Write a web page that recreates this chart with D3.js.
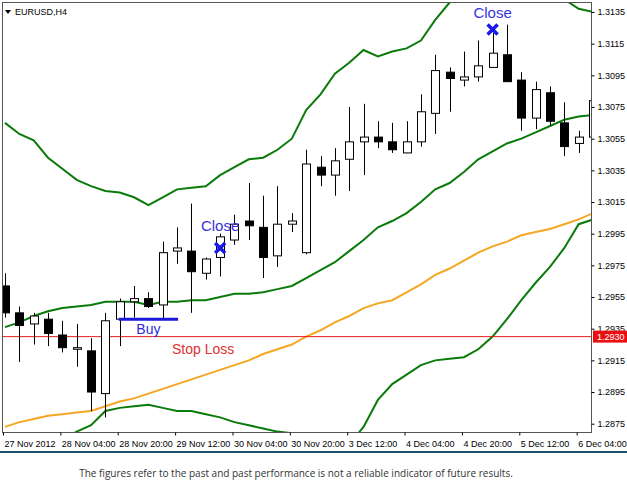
<!DOCTYPE html>
<html><head><meta charset="utf-8">
<script src="https://cdn.jsdelivr.net/npm/d3@7"></script>
<style>body{margin:0;background:#fff}svg{display:block}</style>
</head><body><svg id="c" width="627" height="495"></svg>
<script>
const opens  = [1.2962,1.2945,1.2938,1.2941,1.2931,1.2922,1.2921,1.2894,1.2941,1.2952,1.2954,1.2950,1.2984,1.2984,1.2970,1.2980,1.2991,1.3003,1.2999,1.2981,1.3001,1.2983,1.3037,1.3032,1.3042,1.3053,1.3056,1.3053,1.3046,1.3053,1.3071,1.3097,1.3092,1.3094,1.3100,1.3108,1.3092,1.3068,1.3084,1.3065,1.3052,1.3056];
const highs  = [1.2970,1.2949,1.2945,1.2945,1.2940,1.2938,1.2929,1.2945,1.2954,1.2962,1.2958,1.2990,1.2999,1.3014,1.2980,1.2995,1.3007,1.3027,1.3019,1.3025,1.3008,1.3048,1.3044,1.3049,1.3075,1.3077,1.3066,1.3065,1.3066,1.3083,1.3108,1.3100,1.3110,1.3117,1.3122,1.3127,1.3097,1.3091,1.3088,1.3078,1.3060,1.3082];
const lows   = [1.2942,1.2914,1.2925,1.2924,1.2920,1.2911,1.2883,1.2879,1.2924,1.2942,1.2948,1.2941,1.2976,1.2945,1.2966,1.2968,1.2988,1.2991,1.2967,1.2974,1.2996,1.2982,1.3025,1.3019,1.3022,1.3032,1.3049,1.3046,1.3046,1.3050,1.3058,1.3072,1.3088,1.3091,1.3100,1.3091,1.3060,1.3061,1.3063,1.3044,1.3046,1.3042];
const closes = [1.2945,1.2937,1.2943,1.2932,1.2923,1.2923,1.2895,1.2940,1.2952,1.2954,1.2949,1.2983,1.2986,1.2971,1.2979,1.2993,1.3001,1.3000,1.2980,1.3001,1.3003,1.3039,1.3032,1.3041,1.3053,1.3056,1.3053,1.3048,1.3053,1.3072,1.3098,1.3093,1.3094,1.3101,1.3109,1.3091,1.3068,1.3086,1.3066,1.3050,1.3056,1.3079];
const bandUpper = [1.3065,1.3058,1.3054,1.3043,1.3036,1.3029,1.3025,1.3022,1.3021,1.3018,1.3013,1.3018,1.3023,1.3024,1.3025,1.3032,1.3037,1.3042,1.3043,1.3048,1.3055,1.3073,1.3083,1.3096,1.3103,1.3111,1.3107,1.3110,1.3112,1.3117,1.3130,1.3141,1.3152,1.3159,1.3162,1.3162,1.3159,1.3154,1.3148,1.3143,1.3137,1.3135];
const bandMiddle = [1.2936,1.2939,1.2943,1.2946,1.2948,1.2949,1.2950,1.2952,1.2952,1.2952,1.2950,1.2952,1.2952,1.2953,1.2953,1.2955,1.2957,1.2957,1.2958,1.2960,1.2962,1.2967,1.2972,1.2977,1.2984,1.2991,1.2999,1.3003,1.3008,1.3015,1.3023,1.3027,1.3034,1.3042,1.3047,1.3052,1.3055,1.3059,1.3063,1.3067,1.3069,1.3070];
const bandLower = [1.2852,1.2855,1.2859,1.2862,1.2865,1.2870,1.2874,1.2883,1.2885,1.2886,1.2887,1.2885,1.2883,1.2883,1.2881,1.2879,1.2876,1.2874,1.2872,1.2870,1.2869,1.2862,1.2855,1.2855,1.2862,1.2873,1.2890,1.2900,1.2906,1.2912,1.2915,1.2916,1.2917,1.2922,1.2930,1.2941,1.2953,1.2964,1.2974,1.2986,1.3001,1.3004];
const maSlow = [1.2873,1.2876,1.2878,1.2880,1.2881,1.2882,1.2883,1.2886,1.2889,1.2891,1.2894,1.2897,1.2900,1.2903,1.2906,1.2909,1.2912,1.2915,1.2919,1.2922,1.2925,1.2930,1.2934,1.2939,1.2943,1.2948,1.2951,1.2953,1.2958,1.2963,1.2969,1.2973,1.2978,1.2983,1.2987,1.2990,1.2994,1.2996,1.2998,1.3001,1.3004,1.3008];
const timeLabels = ["27 Nov 2012","28 Nov 04:00","28 Nov 20:00","29 Nov 12:00","30 Nov 04:00","30 Nov 20:00","3 Dec 12:00","4 Dec 04:00","4 Dec 20:00","5 Dec 12:00","6 Dec 04:00"];
const timeTickIdx = [0,4,8,12,16,20,24,28,32,36,40];
const priceTicks = [1.3135,1.3115,1.3095,1.3075,1.3055,1.3035,1.3015,1.2995,1.2975,1.2955,1.2935,1.2915,1.2895,1.2875];
const stopLoss = 1.2930, buyPrice = 1.2941, buyFrom = 8, buyTo = 12;
const closeMarks = [{i:15, p:1.2986, label:"Close", dy:-17},{i:34, p:1.3124, label:"Close", dy:-11}];

const svg = d3.select("#c");
const L=2, R=591, T=2, B=432;
const x = d3.scaleLinear().domain([0,41]).range([5,593]);
const y = d3.scaleLinear().domain([1.3135,1.2875]).range([12,423.7]);
const font = "'Liberation Sans', Arial, sans-serif";

svg.append("defs").append("clipPath").attr("id","clip").append("rect").attr("x",L).attr("y",T).attr("width",R-L).attr("height",B-T);
const g = svg.append("g").attr("clip-path","url(#clip)");

const line = d3.line().x((d,i)=>x(i)).y(d=>y(d));
[[bandUpper,"#0a7a0a"],[bandMiddle,"#0a7a0a"],[bandLower,"#0a7a0a"],[maSlow,"#f5a623"]].forEach(([arr,c])=>{
  g.append("path").attr("d",line(arr)).attr("fill","none").attr("stroke",c).attr("stroke-width",2);
});

g.append("line").attr("x1",L).attr("x2",R).attr("y1",y(stopLoss)).attr("y2",y(stopLoss)).attr("stroke","#e52020").attr("stroke-width",1);

const idx = d3.range(opens.length);
g.selectAll(".w").data(idx).join("line").attr("x1",i=>Math.round(x(i))+0.5).attr("x2",i=>Math.round(x(i))+0.5)
 .attr("y1",i=>y(highs[i])).attr("y2",i=>y(lows[i])).attr("stroke","#000").attr("stroke-width",1);
g.selectAll(".b").data(idx).join("rect")
 .attr("x",i=>Math.round(x(i))-3.5).attr("width",8)
 .attr("y",i=>y(Math.max(opens[i],closes[i])))
 .attr("height",i=>Math.max(1,Math.abs(y(opens[i])-y(closes[i]))))
 .attr("fill",i=>closes[i]>=opens[i]?"#fff":"#000").attr("stroke","#000").attr("stroke-width",1);

g.append("line").attr("x1",x(buyFrom)-1).attr("x2",x(buyTo)+1).attr("y1",y(buyPrice)).attr("y2",y(buyPrice)).attr("stroke","#1a1ad8").attr("stroke-width",3);
svg.append("text").attr("x",(x(buyFrom)+x(buyTo))/2).attr("y",y(buyPrice)+15).attr("text-anchor","middle").attr("font-family",font).attr("font-size",14).attr("fill","#2a2ae0").text("Buy");
svg.append("text").attr("x",172).attr("y",y(stopLoss)+17).attr("font-family",font).attr("font-size",14).attr("fill","#e03030").text("Stop Loss");
closeMarks.forEach(m=>{
  const cx=x(m.i), cy=y(m.p), s=5;
  svg.append("path").attr("d",`M${cx-s},${cy-s}L${cx+s},${cy+s}M${cx+s},${cy-s}L${cx-s},${cy+s}`).attr("stroke","#1a1ae8").attr("stroke-width",3.5);
  svg.append("text").attr("x",cx).attr("y",cy+m.dy).attr("text-anchor","middle").attr("font-family",font).attr("font-size",15).attr("fill","#3535e0").text(m.label);
});

svg.append("rect").attr("x",L+0.5).attr("y",T+0.5).attr("width",R-L).attr("height",B-T).attr("fill","none").attr("stroke","#555").attr("stroke-width",1);

const ya = d3.axisRight(y).tickValues(priceTicks).tickSize(3).tickFormat(d3.format(".4f"));
const yg = svg.append("g").attr("transform",`translate(${R+0.5},0)`).call(ya);
yg.select(".domain").remove();
yg.selectAll("text").attr("font-family",font).attr("font-size",9).attr("fill","#000").attr("x",6);
svg.append("rect").attr("x",R+2).attr("y",y(stopLoss)-6).attr("width",36).attr("height",12).attr("fill","#e81010");
svg.append("text").attr("x",R+6).attr("y",y(stopLoss)+3.5).attr("font-family",font).attr("font-size",9).attr("fill","#fff").text(d3.format(".4f")(stopLoss));

const xa = d3.axisBottom(x).tickValues(timeTickIdx).tickSize(3).tickFormat((d,i)=>timeLabels[i]);
const xg = svg.append("g").attr("transform",`translate(0,${B+0.5})`).call(xa);
xg.select(".domain").remove();
xg.selectAll(".tick line").attr("transform","translate(-2,0)");
xg.selectAll("text").attr("font-family",font).attr("font-size",9).attr("fill","#000").attr("text-anchor","start").attr("x",-1).attr("dy","0.9em");

svg.append("path").attr("d","M5,10L11,10L8,14Z").attr("fill","#000");
svg.append("text").attr("x",15).attr("y",15).attr("font-family",font).attr("font-size",9).attr("fill","#000").text("EURUSD,H4");

svg.append("line").attr("x1",0).attr("x2",627).attr("y1",452).attr("y2",452).attr("stroke","#1f4e6e").attr("stroke-width",2);
svg.append("text").attr("x",296).attr("y",477).attr("text-anchor","middle").attr("font-family","'Open Sans', 'DejaVu Sans', sans-serif").attr("font-size",10).attr("fill","#333").text("The figures refer to the past and past performance is not a reliable indicator of future results.");
</script></body></html>
